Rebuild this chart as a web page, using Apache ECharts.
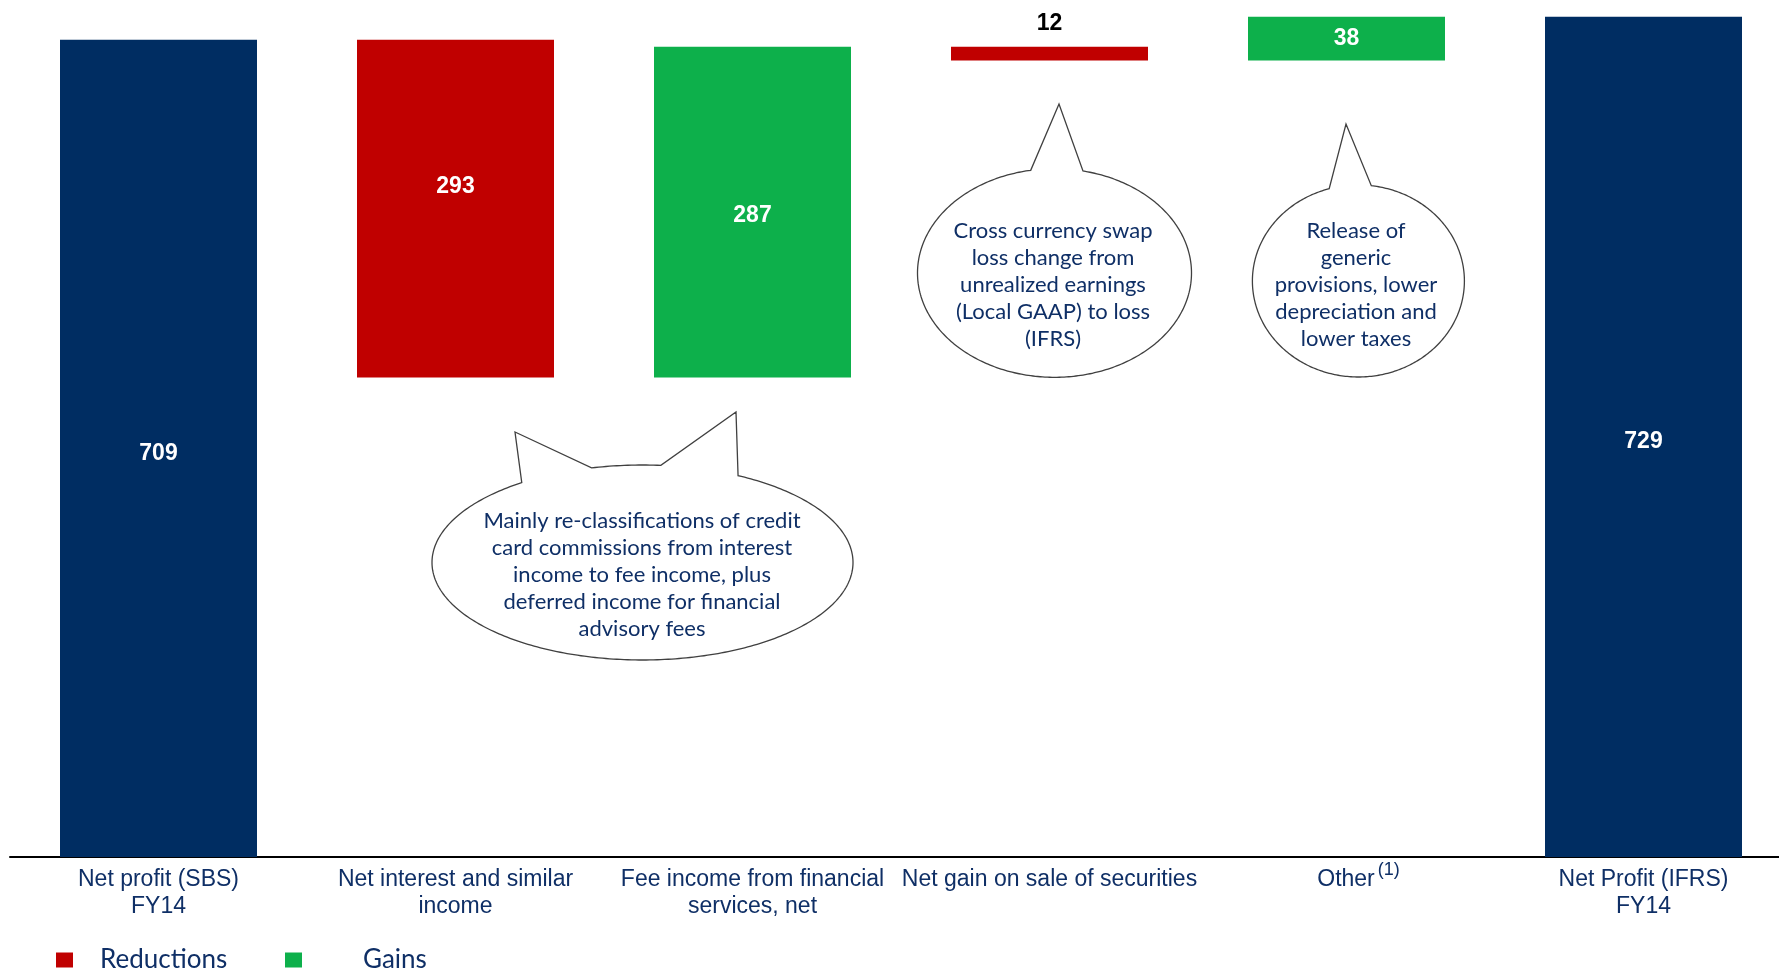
<!DOCTYPE html>
<html>
<head>
<meta charset="utf-8">
<script src="https://cdn.jsdelivr.net/npm/echarts@6/dist/echarts.min.js"></script>
<style>
html,body{margin:0;padding:0;background:#fff;overflow:hidden;}
#chart{width:1800px;height:974px;}
</style>
</head>
<body>
<div id="chart"></div>
<script>
// ---- data ----
const categories = [
  'Net profit (SBS)\nFY14',
  'Net interest and similar\nincome',
  'Fee income from financial\nservices, net',
  'Net gain on sale of securities',
  'Other',
  'Net Profit (IFRS)\nFY14'
];
const startTotal = 709;
const endTotal = 729;
// changes between totals (negative = reduction, positive = gain)
const changes = [-293, 287, -12, 38];
const legendNames = ['Reductions', 'Gains'];

const NAVY = '#002D62', RED = '#C00000', GREEN = '#0DB04B', TEXT = '#0F2F66';

// ---- build waterfall series from data ----
const baseData = ['-'], redData = ['-'], greenData = ['-'];
let running = startTotal;
changes.forEach(c => {
  if (c < 0) { baseData.push(running + c); redData.push(-c); greenData.push('-'); }
  else { baseData.push(running); greenData.push(c); redData.push('-'); }
  running += c;
});
baseData.push('-'); redData.push('-'); greenData.push('-');
const totalData = [startTotal, '-', '-', '-', '-', endTotal];

const numFont = {fontFamily: 'Liberation Sans, Arial, sans-serif', fontWeight: 'bold', fontSize: 23};

const redItems = redData.map(v => {
  if (v === '-') return '-';
  if (v > 30) return {value: v, label: {show: true, position: 'inside', offset: [0, -22], color: '#fff', ...numFont}};
  return {value: v, label: {show: true, position: 'top', distance: 11, color: '#000', ...numFont}};
});
const greenItems = greenData.map(v => {
  if (v === '-') return '-';
  return {value: v, label: {show: true, position: 'inside', offset: [0, v > 100 ? 4 : 0], color: '#fff', ...numFont}};
});

const chart = echarts.init(document.getElementById('chart'), null, {renderer: 'canvas'});

// ---- callout bubbles (annotations) ----
function bubble(cx, cy, rx, ry, tails) {
  const pt = d => { const r = d * Math.PI / 180; return [cx + rx * Math.cos(r), cy + ry * Math.sin(r)]; };
  const pts = [];
  const done = tails.map(() => false);
  for (let d = 0; d < 360; d += 1) {
    const k = tails.findIndex(t => d >= t[0] && d < t[1]);
    if (k >= 0) {
      if (!done[k]) { pts.push(pt(tails[k][0]), tails[k][2], pt(tails[k][1])); done[k] = true; }
      continue;
    }
    pts.push(pt(d));
  }
  return {type: 'polygon', shape: {points: pts}, style: {fill: '#fff', stroke: '#404040', lineWidth: 1.3}, z: 10};
}
function bubbleText(x, y, txt) {
  return {type: 'text', x: x, y: y, z: 11, style: {
    text: txt, fill: TEXT, fontFamily: 'Lato, sans-serif', fontSize: 22, lineHeight: 27,
    align: 'center', verticalAlign: 'middle'
  }};
}

const axisFont = 'Liberation Sans, Arial, sans-serif';
const option = {
  backgroundColor: '#fff',
  animation: false,
  grid: {left: 10, top: 4, width: 1782, height: 853, containLabel: false},
  legend: [
    {data: ['Reductions'], left: 56, top: 945, padding: 0, itemWidth: 17, itemHeight: 15, icon: 'rect',
     textStyle: {fontFamily: 'Lato, sans-serif', fontSize: 26, color: TEXT, lineHeight: 30, padding: [0, 0, 0, 22]}},
    {data: ['Gains'], left: 285, top: 945, padding: 0, itemWidth: 17, itemHeight: 15, icon: 'rect',
     textStyle: {fontFamily: 'Lato, sans-serif', fontSize: 26, color: TEXT, lineHeight: 30, padding: [0, 0, 0, 56]}}
  ],
  xAxis: {
    type: 'category', data: categories,
    axisLine: {show: true, lineStyle: {color: '#000', width: 2}},
    axisTick: {show: false},
    axisLabel: {
      interval: 0, margin: 9, color: TEXT, fontFamily: axisFont, fontSize: 23, lineHeight: 27,
      formatter: v => v === 'Other' ? '{a|Other}{sup|(1)}' : v,
      rich: {
        a: {color: TEXT, fontFamily: axisFont, fontSize: 23, lineHeight: 27, padding: [0, 0, 0, 24]},
        sup: {color: TEXT, fontFamily: axisFont, fontSize: 18, lineHeight: 27, verticalAlign: 'top', padding: [-5, 0, 0, 3]}
      }
    },
    splitLine: {show: false}
  },
  yAxis: {type: 'value', min: 0, max: 740, show: false, splitLine: {show: false}},
  series: [
    {name: 'base', type: 'bar', stack: 'wf', barWidth: 197, data: baseData,
     itemStyle: {color: 'transparent'}, silent: true},
    {name: 'Reductions', type: 'bar', stack: 'wf', barWidth: 197, data: redItems,
     itemStyle: {color: RED}},
    {name: 'Gains', type: 'bar', stack: 'wf', barWidth: 197, data: greenItems,
     itemStyle: {color: GREEN}},
    {name: 'Total', type: 'bar', stack: 'wf', barWidth: 197, data: totalData,
     itemStyle: {color: NAVY},
     label: {show: true, position: 'inside', offset: [0, 5], color: '#fff', ...numFont}}
  ],
  graphic: [
    bubble(642.5, 562.5, 210.5, 97.5, [[235, 256, [515, 432]], [275, 297, [736, 412]]]),
    bubbleText(642, 575, 'Mainly re-classifications of credit\ncard commissions from interest\nincome to fee income, plus\ndeferred income for financial\nadvisory fees'),
    bubble(1054.5, 273, 137, 104.3, [[260, 282, [1059, 104]]]),
    bubbleText(1053, 285, 'Cross currency swap\nloss change from\nunrealized earnings\n(Local GAAP) to loss\n(IFRS)'),
    bubble(1358.4, 281, 106, 96, [[254, 277, [1346, 124]]]),
    bubbleText(1356, 285, 'Release of\ngeneric\nprovisions, lower\ndepreciation and\nlower taxes')
  ]
};
chart.setOption(option);
</script>
</body>
</html>
